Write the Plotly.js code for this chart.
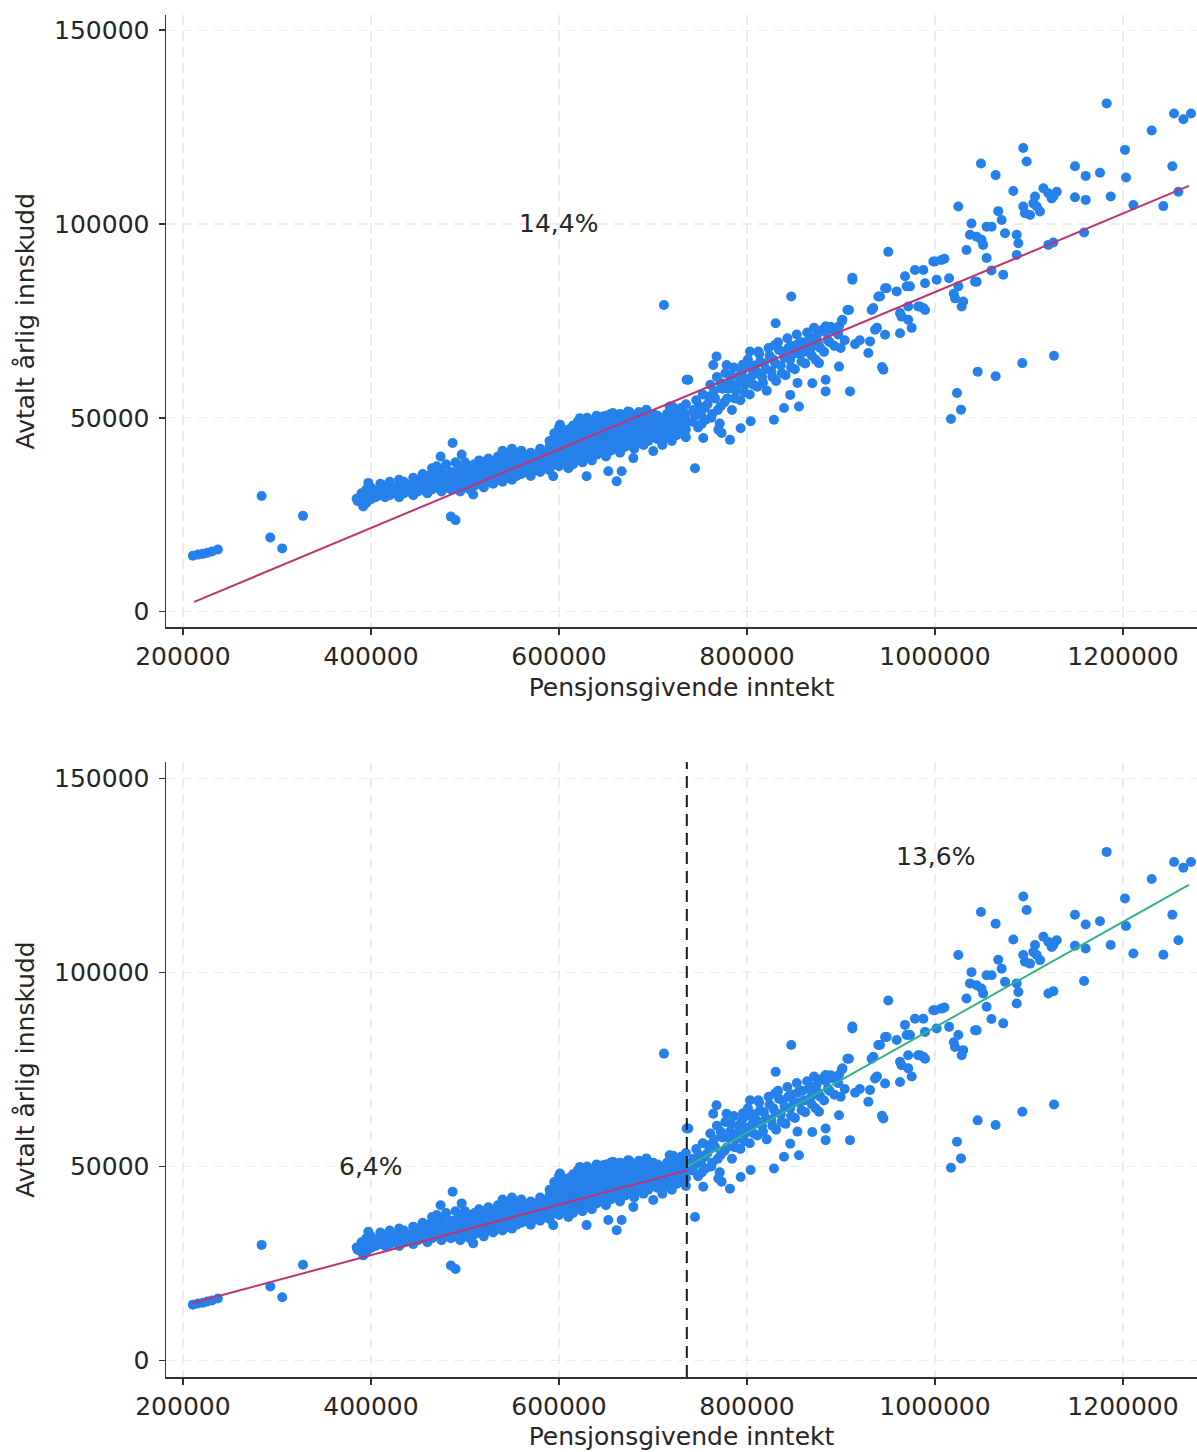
<!DOCTYPE html>
<html>
<head>
<meta charset="utf-8">
<script src="https://cdn.plot.ly/plotly-3.0.1.min.js"></script>
<style>html,body{margin:0;padding:0;background:#fff;}#chart{width:1197px;height:1452px;}</style>
</head>
<body>
<div id="chart"></div>
<script>
// ---- data ----
const lowIncomePts = [
  [210600,14400],[216000,14700],[221300,14900],[226000,15200],[230900,15500],[237200,16000],
  [283700,29800],[292900,19100],[305600,16300],[327700,24700],
  [384800,29100],[386000,28500],[391800,27100],[397200,33200]
];
const bandPts = [
  [390000,29000],[390000,30500],
  [395000,28000],[395000,30000],[395000,31500],
  [400000,29000],[400000,30500],[400000,32000],
  [405000,29500],[405000,31000],
  [410000,30000],[410000,31500],[410000,33000],
  [415000,29500],[415000,31000],[415000,32500],
  [420000,30000],[420000,31500],[420000,33500],
  [425000,30500],[425000,32000],
  [430000,29500],[430000,31000],[430000,32500],[430000,34000],
  [435000,30500],[435000,32000],[435000,33500],
  [440000,31000],[440000,32500],
  [445000,30000],[445000,31500],[445000,33000],[445000,34500],
  [450000,31000],[450000,32500],[450000,34000],
  [455000,31500],[455000,33000],[455000,35500],
  [460000,30500],[460000,32000],[460000,33500],[460000,35000],
  [465000,31500],[465000,33000],[465000,34500],[465000,37000],
  [470000,32000],[470000,33500],[470000,35000],[470000,37500],
  [475000,31000],[475000,32500],[475000,34000],[475000,36500],
  [480000,32000],[480000,33500],[480000,35000],[480000,38000],
  [485000,31500],[485000,33000],[485000,34500],[485000,36000],
  [490000,32000],[490000,34000],[490000,36000],[490000,38500],
  [495000,31000],[495000,33000],[495000,35000],[495000,37000],
  [500000,32500],[500000,34500],[500000,36500],[500000,38500],
  [505000,31500],[505000,33500],[505000,35500],[505000,37500],
  [510000,32500],[510000,34000],[510000,36000],[510000,38000],
  [515000,33000],[515000,35000],[515000,37000],[515000,39000],
  [520000,32000],[520000,34000],[520000,36000],[520000,38500],
  [525000,33500],[525000,35500],[525000,37500],[525000,39500],
  [530000,33000],[530000,35000],[530000,37000],[530000,38500],
  [535000,34000],[535000,36000],[535000,38000],[535000,40000],
  [540000,33500],[540000,35500],[540000,37500],[540000,39500],[540000,41500],
  [545000,34500],[545000,36500],[545000,38500],[545000,40500],
  [550000,34000],[550000,36000],[550000,38000],[550000,40000],[550000,42000],
  [555000,35000],[555000,37000],[555000,39000],[555000,41000],
  [560000,35500],[560000,37500],[560000,39500],[560000,41500],
  [565000,36000],[565000,38000],[565000,40000],
  [570000,35000],[570000,37000],[570000,39000],[570000,41000],
  [575000,36500],[575000,38500],[575000,40500],
  [580000,36000],[580000,38000],[580000,40000],[580000,42000],
  [585000,37000],[585000,39000],[585000,41000],
  [590000,36500],[590000,38500],[590000,40500],[590000,42500],[590000,44000],
  [595000,38000],[595000,40000],[595000,42000],[595000,44500],[595000,46000],
  [600000,37500],[600000,39500],[600000,41500],[600000,43500],[600000,45500],[600000,47500],
  [605000,38500],[605000,40500],[605000,42500],[605000,44500],[605000,46500],
  [610000,37000],[610000,39000],[610000,41000],[610000,43000],[610000,45000],[610000,47000],
  [615000,38000],[615000,40000],[615000,42000],[615000,44000],[615000,46000],[615000,48000],
  [620000,39500],[620000,41500],[620000,43500],[620000,45500],[620000,47500],[620000,49000],
  [625000,38500],[625000,40500],[625000,42500],[625000,44500],[625000,46500],[625000,48500],
  [630000,40000],[630000,42000],[630000,44000],[630000,46000],[630000,48000],[630000,50000],
  [635000,39000],[635000,41000],[635000,43000],[635000,45000],[635000,47000],[635000,49000],
  [640000,40500],[640000,42500],[640000,44500],[640000,46500],[640000,48500],[640000,50500],
  [645000,41000],[645000,43000],[645000,45000],[645000,47000],[645000,49000],
  [650000,40000],[650000,42000],[650000,44000],[650000,46000],[650000,48000],[650000,50500],
  [655000,41500],[655000,43500],[655000,45500],[655000,47500],[655000,49500],[655000,51000],
  [660000,42000],[660000,44000],[660000,46000],[660000,48000],[660000,50000],
  [665000,41000],[665000,43000],[665000,45000],[665000,47000],[665000,49000],[665000,51000],
  [670000,42500],[670000,44500],[670000,46500],[670000,48500],[670000,50500],
  [675000,43000],[675000,45000],[675000,47000],[675000,49000],[675000,51500],
  [680000,42000],[680000,44000],[680000,46000],[680000,48000],[680000,50000],
  [685000,43500],[685000,45500],[685000,47500],[685000,49500],[685000,51500],
  [690000,43000],[690000,45000],[690000,47000],[690000,49000],[690000,51000],
  [695000,44000],[695000,46000],[695000,48000],[695000,50000],
  [700000,45000],[700000,47000],[700000,49000],[700000,51000],
  [705000,44500],[705000,46500],[705000,48500],[705000,50500],
  [710000,43000],[710000,45500],[710000,47500],[710000,49500],
  [715000,45000],[715000,47000],[715000,49000],[715000,51000],
  [720000,44000],[720000,46000],[720000,48000],[720000,50000],[720000,52000],
  [725000,45500],[725000,47500],[725000,49500],[725000,51500],
  [730000,46000],[730000,48000],[730000,50000],[730000,52500],
  [735000,45000],[735000,47000],[735000,49000],[735000,51000],[735000,53500],
  [742000,49000],[743000,52000],[746000,54500],[748000,47500],[751000,51000],[753000,56000],
  [756000,49500],[758000,53500],[761000,58500],[763000,51000],[766000,55000],[768000,60500],
  [771000,48500],[772000,53000],[774000,57500],[777000,61500],[779000,55000],[782000,59000],
  [784000,52000],[786000,63000],[788000,57000],[791000,60500],[793000,54500],[796000,62500],
  [798000,58500],[801000,65000],[803000,56000],[806000,61000],[808000,63500],[811000,58000],
  [813000,66500],[816000,60500],[818000,64000],[821000,57000],[823000,68000],[826000,62000],
  [828000,65000],[831000,59500],[833000,69500],[836000,63500],[838000,67000],[841000,61000],
  [843000,70500],[846000,65000],[848000,68500],[851000,62500],[853000,71500],[856000,66500],
  [859000,69500],[862000,64000],[864000,72000],[867000,67500],[870000,70500],[873000,65000],
  [876000,69000],[879000,72500],[882000,67000],[886000,70000],[889000,73500],[893000,68500],
  [897000,71500],[901000,75000],[904000,70000],
  [745000,50500],[749000,53000],[752000,48500],[755000,52500],[759000,55500],[762000,50000],
  [765000,57000],[769000,52000],[772000,59000],[776000,54000],[780000,57500],[783000,61000],
  [787000,55000],[790000,58500],[794000,61500],[797000,56500],[800000,60000],[804000,63000],
  [807000,58500],[810000,62000],[814000,64500],[817000,59000],[820000,62500],[824000,66000],
  [827000,60500],[830000,64000],[834000,67500],[837000,61500],[840000,65500],[844000,68000],
  [847000,63000],[850000,66500],[854000,69000],[858000,64500],[861000,67000],[866000,70000],
  [869000,66000],[874000,71000],[878000,68000],[884000,72000],[888000,69500],[895000,73000]
];
const scatterPts = [
  [474100,40000],[486900,43500],[496500,40500],[485000,24500],[490000,23600],[508800,30200],
  [593900,34900],[601100,48200],[622300,49900],[629400,34900],[646800,50300],[652500,36200],
  [657400,51200],[661400,33600],[666700,36200],[673400,51600],[679100,39600],[693000,52100],
  [700300,41400],[711700,79100],[717800,52900],[721300,52800],[735800,59800],[737600,59800],
  [744700,37000],[753500,44800],[764100,63600],[767600,65800],[769500,46900],[773000,46100],
  [778300,63600],[781900,44300],[793300,47300],[795700,63700],[803200,67100],[803900,49100],
  [812100,67100],[828700,49500],[829800,68800],[830500,74400],[839400,52500],[846000,55900],
  [847100,81300],[853700,59000],[855300,52900],[869500,58900],[869500,68400],[871300,73200],
  [876600,64100],[883000,73100],[883700,73600],[883700,59800],[883700,56800],[891900,72700],
  [897900,73600],[897900,63200],[899700,68000],[901500,75300],[906800,77800],[908500,77800],
  [909600,56800],[912100,85600],[912100,86100],[915000,69000],[920000,70000],[929100,66700],
  [930900,69700],[932600,77800],[934400,78300],[936200,72700],[938300,73200],[939700,81300],
  [941500,81300],[943600,63100],[945100,62400],[946900,71400],[946900,83400],[948600,83400],
  [950300,92800],[959300,82600],[962800,71800],[962800,77000],[964400,76100],[968100,86500],
  [969900,83900],[971500,75300],[971500,78700],[973400,83900],[975200,73200],[978700,88100],
  [982100,78700],[984000,78700],[987600,88100],[987600,78300],[989400,84700],[989400,77800],
  [998200,90300],[1000000,90300],[1001800,85600],[1006900,90700],[1010000,91000],
  [1015000,86000],[1017000,49700],[1020000,82000],[1021300,80800],[1023400,56400],
  [1024800,104500],[1024800,83900],[1027700,52100],[1028400,78700],[1030000,80000],
  [1033500,93300],[1037200,97200],[1038800,100100],[1042600,85100],[1044300,96700],
  [1044300,85100],[1045400,61900],[1048900,115600],[1049500,95900],[1051200,94600],
  [1054900,99300],[1054900,91200],[1060000,88000],[1060200,99300],[1064500,112600],
  [1064500,60700],[1067300,103300],[1070900,101000],[1072600,86900],[1074500,97600],
  [1083300,108500],[1086900,97200],[1086900,92000],[1088700,95000],[1092900,64100],
  [1093900,119600],[1093900,104500],[1095700,102800],[1097500,116100],[1101100,102300],
  [1104600,105300],[1106400,107100],[1108200,104500],[1111700,103200],[1115300,109200],
  [1120600,107900],[1120600,94600],[1124100,106600],[1125900,107100],[1125900,95200],
  [1126600,66000],[1129500,108300],[1148900,114900],[1148900,106900],[1158600,97800],
  [1160300,112400],[1160300,106200],[1175500,113200],[1182600,131100],[1186900,107100],
  [1202100,119100],[1203200,112000],[1211000,104900],[1230500,124100],[1242900,104600],
  [1252500,114900],[1258900,108300],[1254300,128500],[1264200,127000],[1272300,128500]
];
// fitted lines
const fitAllX = [212000, 1270000];
const fitAllY = [2500, 109800];
const fitLowX = [210000, 736000];
const fitLowY = [14800, 49000];
const fitHighX = [736000, 1270000];
const fitHighY = [50000, 122600];
const breakPoint = 736000;
const xTicks = [200000, 400000, 600000, 800000, 1000000, 1200000];
const yTicks = [0, 50000, 100000, 150000];
const labelTop = {x: 600000, y: 100000, text: '14,4%'};
const labelHigh = {x: 1000000, y: 130000, text: '13,6%'};
const labelLow = {x: 400000, y: 50000, text: '6,4%'};

// ---- build ----
const allPts = lowIncomePts.concat(bandPts, scatterPts);
const px = allPts.map(p => p[0]);
const py = allPts.map(p => p[1]);

const FONT = 'DejaVu Sans, sans-serif';
const TXT = '#262626';
const markerStyle = {color: '#2580ea', size: 10, line: {width: 0}};
const magenta = '#bf3370';
const green = '#2fb38c';

const traces = [
  {x: px, y: py, type: 'scatter', mode: 'markers', marker: markerStyle, xaxis: 'x', yaxis: 'y', hoverinfo: 'skip'},
  {x: fitAllX, y: fitAllY, type: 'scatter', mode: 'lines', line: {color: magenta, width: 2}, xaxis: 'x', yaxis: 'y'},
  {x: px, y: py, type: 'scatter', mode: 'markers', marker: markerStyle, xaxis: 'x2', yaxis: 'y2', hoverinfo: 'skip'},
  {x: fitLowX, y: fitLowY, type: 'scatter', mode: 'lines', line: {color: magenta, width: 2}, xaxis: 'x2', yaxis: 'y2'},
  {x: fitHighX, y: fitHighY, type: 'scatter', mode: 'lines', line: {color: green, width: 2}, xaxis: 'x2', yaxis: 'y2'}
];

function xAx(anchor) {
  return {
    anchor: anchor, domain: [0, 1], range: [182000, 1278700],
    tickvals: xTicks, tickformat: 'd', ticks: 'outside', ticklen: 6, tickwidth: 1.5, tickcolor: '#333',
    showline: true, linecolor: '#333', linewidth: 1.5, zeroline: false,
    showgrid: true, gridcolor: '#ececec', gridwidth: 1.2, griddash: '10px,6px',
    tickfont: {family: FONT, size: 25, color: TXT},
    title: {text: 'Pensjonsgivende inntekt', font: {family: FONT, size: 25, color: TXT}, standoff: 8}
  };
}
function yAx(anchor, domain, range) {
  return {
    anchor: anchor, domain: domain, range: range,
    tickvals: yTicks, tickformat: 'd', ticks: 'outside', ticklen: 6, tickwidth: 1.5, tickcolor: '#333',
    showline: true, linecolor: '#333', linewidth: 1.5, zeroline: false,
    showgrid: true, gridcolor: '#ececec', gridwidth: 1.2, griddash: '10px,6px',
    ticklabelstandoff: 4,
    tickfont: {family: FONT, size: 25, color: TXT},
    title: {text: 'Avtalt årlig innskudd', font: {family: FONT, size: 25, color: TXT}, standoff: 12}
  };
}

const ann = (l, xr, yr) => ({x: l.x, y: l.y, xref: xr, yref: yr, text: l.text, showarrow: false,
  font: {family: FONT, size: 25, color: TXT}, xanchor: 'center', yanchor: 'middle'});

const layout = {
  width: 1197, height: 1452,
  margin: {l: 166, r: 0, t: 15, b: 75},
  paper_bgcolor: '#fff', plot_bgcolor: '#fff',
  showlegend: false,
  xaxis: xAx('y'),
  yaxis: yAx('x', [0.5503, 1], [-4100, 153900]),
  xaxis2: xAx('y2'),
  yaxis2: yAx('x2', [0, 0.4515], [-4250, 154250]),
  shapes: [{type: 'line', xref: 'x2', yref: 'y2 domain', x0: breakPoint, x1: breakPoint, y0: 0, y1: 1,
    line: {color: '#1a1a1a', width: 2, dash: '12px,7px'}}],
  annotations: [ann(labelTop, 'x', 'y'), ann(labelHigh, 'x2', 'y2'), ann(labelLow, 'x2', 'y2')]
};

Plotly.newPlot('chart', traces, layout, {staticPlot: true, displayModeBar: false});
</script>
</body>
</html>
